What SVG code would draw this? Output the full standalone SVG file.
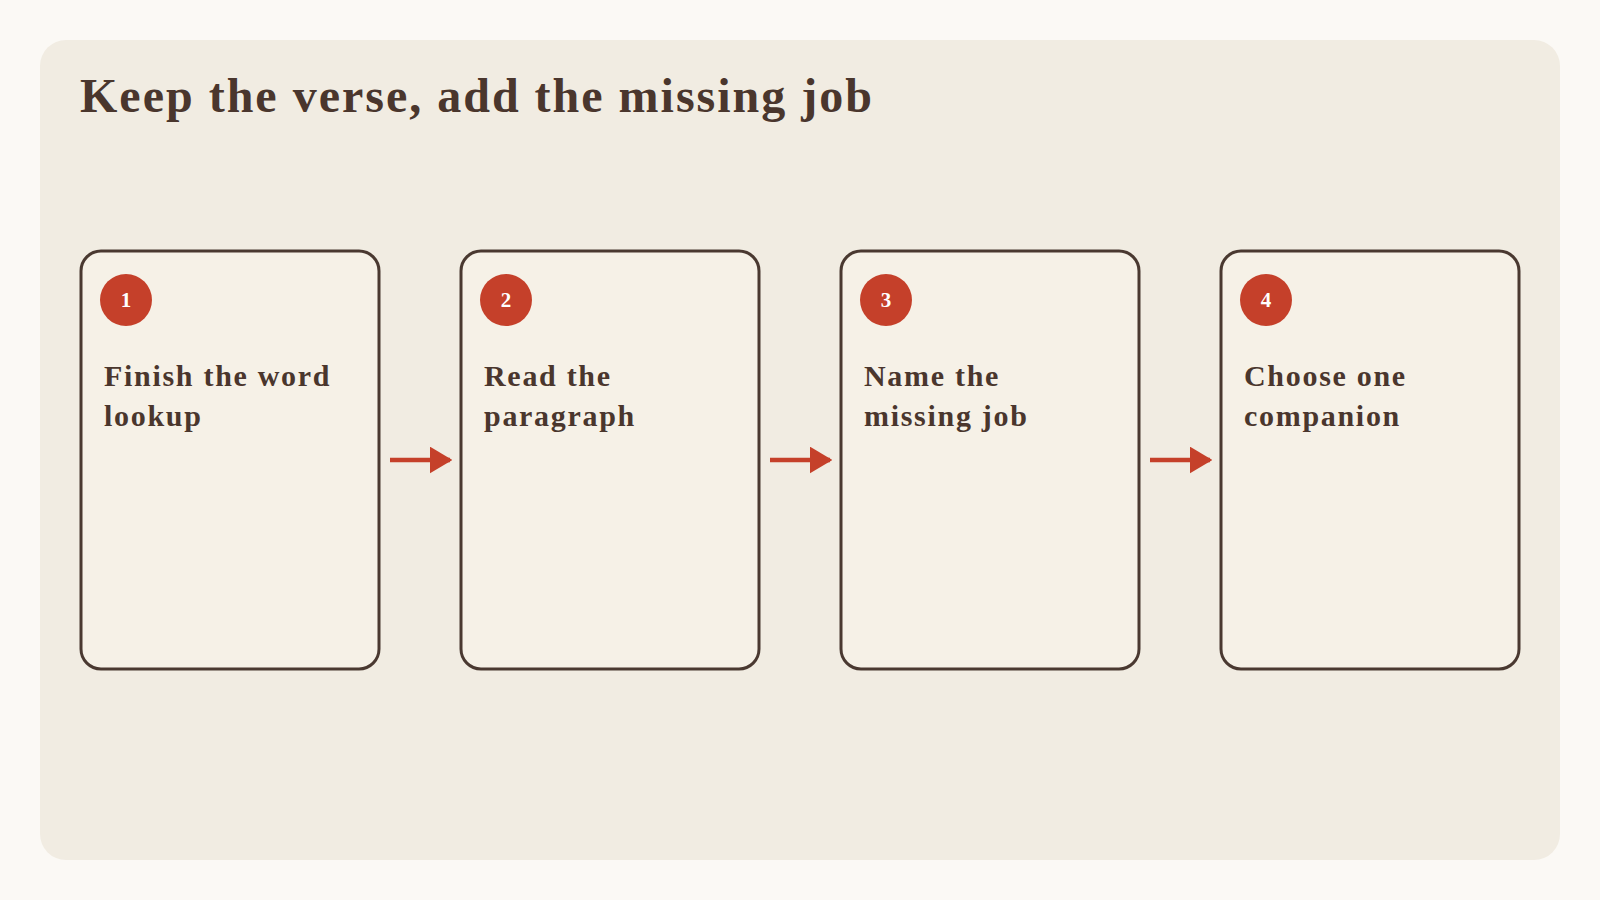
<svg xmlns="http://www.w3.org/2000/svg" width="1600" height="900" viewBox="0 0 1600 900">
  <defs>
    <style>
      .card { fill: #f6f1e7; stroke: #4a3931; stroke-width: 3; }
      .badge { fill: #c5402a; }
      .num { fill: #ffffff; font-family: "Liberation Serif", "DejaVu Serif", serif; font-weight: bold; font-size: 21px; text-anchor: middle; }
      .label { fill: #4a362d; font-family: "Liberation Serif", "DejaVu Serif", serif; font-weight: bold; font-size: 30px; letter-spacing: 1.7px; }
      .title { fill: #4a362d; font-family: "Liberation Serif", "DejaVu Serif", serif; font-weight: bold; font-size: 48px; letter-spacing: 2px; }
      .conn { stroke: #c5402a; stroke-width: 4.5; fill: none; marker-end: url(#arrow); }
    </style>
    <marker id="arrow" markerWidth="5" markerHeight="6" refX="4.5" refY="3" orient="auto" markerUnits="strokeWidth">
      <path d="M0,0 L5,3 L0,6 Z" fill="#c5402a"/>
    </marker>
  </defs>
  <rect x="0" y="0" width="1600" height="900" fill="#fbf9f5"/>
  <rect x="40" y="40" width="1520" height="820" rx="26" fill="#f1ece2"/>
  <text class="title" x="80" y="112">Keep the verse, add the missing job</text>

  <g id="connectors">
    <line class="conn" x1="390" y1="460" x2="450" y2="460"/>
    <line class="conn" x1="770" y1="460" x2="830" y2="460"/>
    <line class="conn" x1="1150" y1="460" x2="1210" y2="460"/>
  </g>

  <g id="step1">
    <rect class="card" x="81" y="251" width="298" height="418" rx="20"/>
    <circle class="badge" cx="126" cy="300" r="26"/>
    <text class="num" x="126" y="307">1</text>
    <text class="label" x="104" y="386">Finish the word</text>
    <text class="label" x="104" y="426">lookup</text>
  </g>
  <g id="step2">
    <rect class="card" x="461" y="251" width="298" height="418" rx="20"/>
    <circle class="badge" cx="506" cy="300" r="26"/>
    <text class="num" x="506" y="307">2</text>
    <text class="label" x="484" y="386">Read the</text>
    <text class="label" x="484" y="426">paragraph</text>
  </g>
  <g id="step3">
    <rect class="card" x="841" y="251" width="298" height="418" rx="20"/>
    <circle class="badge" cx="886" cy="300" r="26"/>
    <text class="num" x="886" y="307">3</text>
    <text class="label" x="864" y="386">Name the</text>
    <text class="label" x="864" y="426">missing job</text>
  </g>
  <g id="step4">
    <rect class="card" x="1221" y="251" width="298" height="418" rx="20"/>
    <circle class="badge" cx="1266" cy="300" r="26"/>
    <text class="num" x="1266" y="307">4</text>
    <text class="label" x="1244" y="386">Choose one</text>
    <text class="label" x="1244" y="426">companion</text>
  </g>
</svg>
